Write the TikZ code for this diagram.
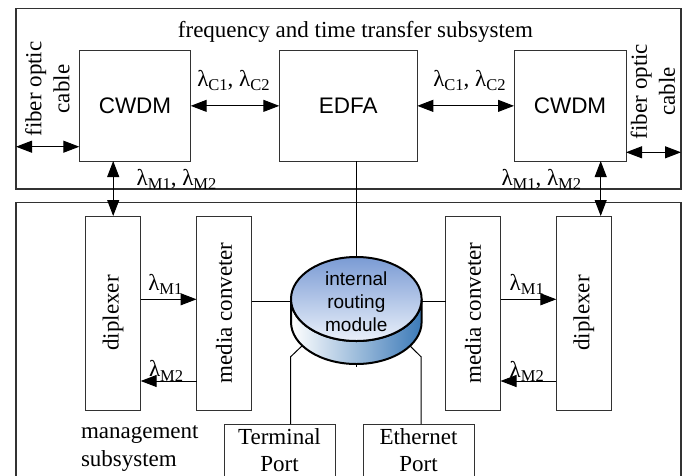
\documentclass[tikz,border=0pt]{standalone}
\usepackage{fontspec}
\setmainfont{Liberation Serif}
\newfontfamily\arialf{Liberation Sans}
\usetikzlibrary{arrows.meta,calc}
\definecolor{cyltop}{RGB}{122,155,212}
\definecolor{cylbot}{RGB}{234,240,250}
\definecolor{cylside}{RGB}{60,122,184}
\definecolor{edgegray}{RGB}{50,50,50}
\newcommand{\lamsub}[1]{λ\raisebox{-4.5pt}{\fontsize{16.5}{16.5}\selectfont #1}}
\begin{document}
\begin{tikzpicture}[x=1pt,y=-1pt,
  every node/.style={inner sep=0pt, outer sep=0pt},
  serif/.style={font=\fontsize{23}{28}\selectfont},
  frame/.style={draw=edgegray, line width=1.1pt},
  sansbox/.style={draw=edgegray, line width=1pt, minimum height=110.3, font=\arialf\fontsize{22.5}{27}\selectfont},
  vertbox/.style={draw=edgegray, line width=1pt, rotate=90, minimum width=194, minimum height=55, font=\fontsize{23}{28}\selectfont},
  portbox/.style={draw=edgegray, line width=1pt, minimum width=111, minimum height=80, anchor=north},
  conn/.style={line width=1pt},
  biarrow/.style={line width=1pt, {Triangle[length=16pt,width=12pt]}-{Triangle[length=16pt,width=12pt]}},
  onearrow/.style={line width=1pt, -{Triangle[length=16pt,width=12pt]}},
  lamlabel/.style={font=\fontsize{23}{28}\selectfont, anchor=base west},
]
\path[use as bounding box] (0,0) rectangle (686,475);
\clip (0,0) rectangle (686,475);

% subsystem frames
\node[frame, minimum width=665, minimum height=180.7, anchor=north west] (freqsys) at (16,8.3) {};
\node[frame, minimum width=665, minimum height=320, anchor=north west] (mgmtsys) at (16,202.3) {};
\node[serif, anchor=base] (title) at (355.5,37) {frequency and time transfer subsystem};

% top row
\node[sansbox, minimum width=111.4] (cwdmL) at (135,105.85) {CWDM};
\node[sansbox, minimum width=138] (edfa) at (348.3,105.85) {EDFA};
\node[sansbox, minimum width=112] (cwdmR) at (570,105.85) {CWDM};

\draw[biarrow] (cwdmL.east) -- (edfa.west);
\draw[biarrow] (edfa.east) -- (cwdmR.west);
\node[lamlabel] (lcL) at (197.3,86) {\lamsub{C1}, \lamsub{C2}};
\node[lamlabel] (lcR) at (433.3,86) {\lamsub{C1}, \lamsub{C2}};

% fiber optic cables
\coordinate (fibL) at (16,146.7);
\coordinate (fibR) at (681,152.3);
\draw[biarrow] (fibL) -- (cwdmL.west |- fibL);
\draw[biarrow] (cwdmR.east |- fibR) -- (fibR);
\node[serif, rotate=90, align=center] (fibLt) at (47.5,89) {fiber optic\\cable};
\node[serif, rotate=90, align=center] (fibRt) at (653,91.5) {fiber optic\\cable};

% management subsystem boxes (rotated: east = visual top, north = visual left)
\node[vertbox] (dipL) at (113.2,313) {diplexer};
\node[vertbox] (mcL) at (224,313) {media conveter};
\node[vertbox] (mcR) at (473,313) {media conveter};
\node[vertbox] (dipR) at (583.8,313) {diplexer};

% CWDM <-> diplexer
\draw[biarrow] (cwdmL.south -| dipL.east) -- (dipL.east);
\draw[biarrow] ([xshift=16.9pt]cwdmR.south -| dipR.east) -- ([xshift=16.9pt]dipR.east);
\node[lamlabel] (lmL) at (136.7,185) {\lamsub{M1}, \lamsub{M2}};
\node[lamlabel] (lmR) at (501.5,185) {\lamsub{M1}, \lamsub{M2}};

% diplexer <-> media converter
\coordinate (ya) at (0,299.3);
\coordinate (yb) at (0,381);
\draw[onearrow] (dipL.south |- ya) -- (mcL.north |- ya);
\draw[onearrow] (mcL.north |- yb) -- (dipL.south |- yb);
\draw[onearrow] (mcR.south |- ya) -- (dipR.north |- ya);
\draw[onearrow] (dipR.north |- yb) -- (mcR.south |- yb);
\node[lamlabel] (l1L) at (148.3,290) {\lamsub{M1}};
\node[lamlabel] (l2L) at (149,376.7) {\lamsub{M2}};
\node[lamlabel] (l1R) at (509.7,290) {\lamsub{M1}};
\node[lamlabel] (l2R) at (509.7,377) {\lamsub{M2}};

% ports
\node[portbox] (term) at (279.5,424) {};
\node[font=\fontsize{23}{27}\selectfont, align=center, anchor=north] (termt) at (279.5,428.5) {Terminal\\Port};
\node[portbox] (ether) at (418.5,424) {};
\node[font=\fontsize{23}{27}\selectfont, align=center, anchor=north] (ethert) at (418.5,428.5) {Ethernet\\Port};
\node[font=\fontsize{23}{27.5}\selectfont, align=left, anchor=north west] (mgt) at (81,426) {management\\subsystem};

% routing module connections (drawn beneath the cylinder)
\coordinate (cyl) at (356.3,299);
\coordinate (cylW) at (291,301);
\coordinate (cylE) at (421.6,301);
\coordinate (cylS) at (356.3,367);
\coordinate (tk) at (290.7,356.7);
\coordinate (tkin) at (305,343);
\coordinate (ek) at (421,356.7);
\coordinate (ekin) at (407,343);
\draw[conn] (mcL.south |- cylW) -- (cylW);
\draw[conn] (cylE) -- (mcR.north |- cylE);
\draw[conn] (edfa.south -| cyl) -- (cylS);
\draw[conn] (term.north -| tk) -- (tk) -- (tkin);
\draw[conn] (ether.north -| ek) -- (ek) -- (ekin);

% cylinder
\shadedraw[left color=white, right color=cylside, line width=2pt]
  (291,299) -- (291,322) arc[start angle=180, end angle=360, x radius=65.3pt, y radius=42pt]
  -- (421.6,299) arc[start angle=0, end angle=-180, x radius=65.3pt, y radius=42pt] -- cycle;
\shadedraw[top color=cyltop, bottom color=cylbot, line width=2pt] (cyl) ellipse [x radius=65.3pt, y radius=42pt];
\node[font=\arialf\fontsize{19}{23}\selectfont, align=center] (irm) at (356.3,302) {internal\\routing\\module};
\end{tikzpicture}
\end{document}
